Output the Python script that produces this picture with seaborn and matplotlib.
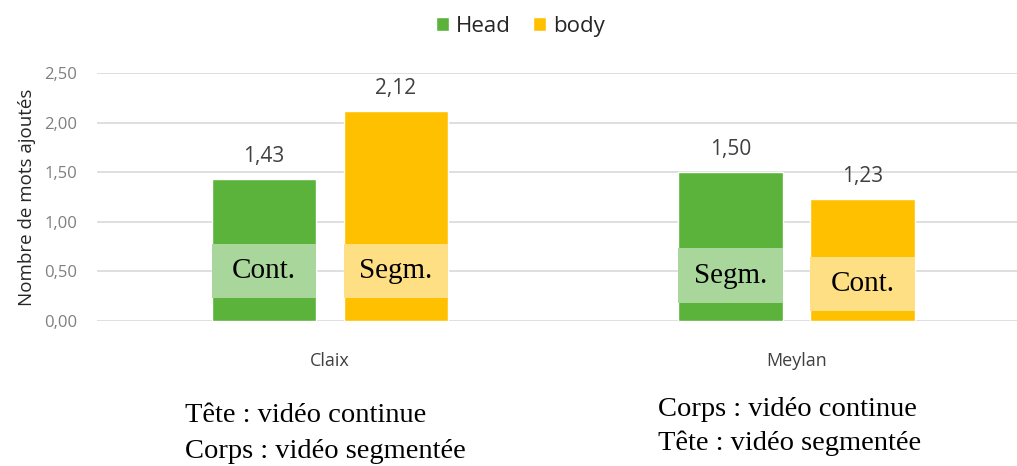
import matplotlib
matplotlib.use("Agg")
import matplotlib.pyplot as plt
import seaborn as sns
import pandas as pd

# data
sites = ["Claix", "Meylan"]
parts = ["Head", "body"]
head_vals = [1.43, 1.50]
body_vals = [2.12, 1.23]
# light band (low, high) inside each bar, and its label
band_head = [(0.23, 0.776), (0.18, 0.736)]
band_body = [(0.23, 0.776), (0.10, 0.645)]
band_text_head = ["Cont.", "Segm."]
band_text_body = ["Segm.", "Cont."]
value_labels_head = ["1,43", "1,50"]
value_labels_body = ["2,12", "1,23"]
notes = [["Tête : vidéo continue", "Corps : vidéo segmentée"],
         ["Corps : vidéo continue", "Tête : vidéo segmentée"]]

green = "#5BB33B"
yellow = "#FFC000"
green_light = "#A9D69A"
yellow_light = "#FFDF84"

df = pd.DataFrame({
    "site": sites * 2,
    "part": ["Head"] * 2 + ["body"] * 2,
    "value": head_vals + body_vals,
})

sns.set_theme(style="white")
plt.rcParams["font.family"] = ["Open Sans", "DejaVu Sans"]

fig = plt.figure(figsize=(10.17, 4.66), dpi=100)
ax = fig.add_axes([0.095, 0.311, 0.918, 0.532])

sns.barplot(data=df, x="site", y="value", hue="part", order=sites,
            hue_order=parts, palette=[green, yellow], width=0.565, gap=0.205,
            saturation=1, ax=ax, legend=True)

ax.set_ylim(0, 2.5)
ax.set_xlim(-0.5, 1.5)
ax.set_yticks([0, 0.5, 1, 1.5, 2, 2.5])
ax.set_yticklabels(["0,00", "0,50", "1,00", "1,50", "2,00", "2,50"])
ax.yaxis.grid(True, color="#D9D9D9", lw=1.2)
ax.set_axisbelow(True)
for s in ax.spines.values():
    s.set_visible(False)
ax.tick_params(axis="y", colors="#7F7F7F", labelsize=12, length=0, pad=14)
ax.tick_params(axis="x", colors="#404040", labelsize=13, length=0, pad=22)
ax.set_xlabel("")
ax.set_ylabel("Nombre de mots ajoutés", fontsize=13.5, color="#262626", labelpad=6)

# overlay light bands and labels
bars = [p for p in ax.patches if p.get_height() > 0]
bars = sorted(bars, key=lambda p: p.get_x())
head_bars = [bars[0], bars[2]]
body_bars = [bars[1], bars[3]]
groups = [(head_bars, band_head, band_text_head, value_labels_head, green_light),
          (body_bars, band_body, band_text_body, value_labels_body, yellow_light)]
for blist, bands, texts, vlabels, col in groups:
    for p, (lo, hi), t, vl in zip(blist, bands, texts, vlabels):
        cx = p.get_x() + p.get_width() / 2
        ax.bar(cx, hi - lo, bottom=lo, width=p.get_width(), color=col, lw=0)
        ax.text(cx, (lo + hi) / 2, t, ha="center", va="center",
                fontsize=21, family="Liberation Serif", color="black")
        ax.text(cx, p.get_height() + 0.23, vl, ha="center", va="center",
                fontsize=15, color="#404040")

leg = ax.legend(loc="center", bbox_to_anchor=(0.454, 1.19), ncol=2,
                frameon=False, fontsize=16, handlelength=0.6, handleheight=0.6,
                handletextpad=0.3, columnspacing=1.0)

for i, lines in enumerate(notes):
    x = 185 / 1017 if i == 0 else 658 / 1017
    ys = [415, 452] if i == 0 else [410, 443]
    for line, y in zip(lines, ys):
        fig.text(x, 1 - y / 466, line, ha="left", va="center",
                 fontsize=20.5, family="Liberation Serif", color="black")

fig.savefig("out.png", dpi=100)
